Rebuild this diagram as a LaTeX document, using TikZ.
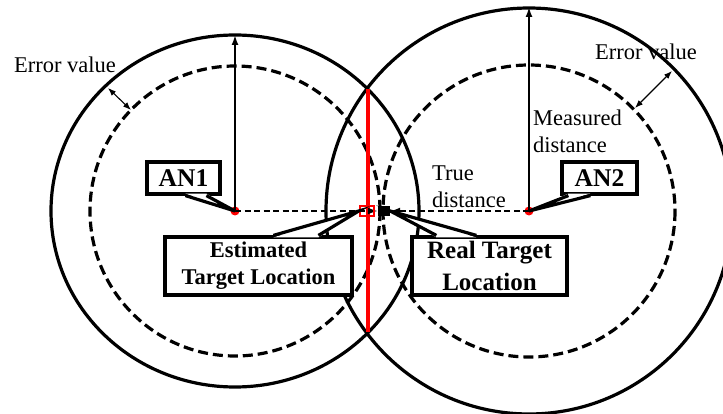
\documentclass[tikz,border=0pt]{standalone}
\usepackage{fontspec}
\setmainfont{Liberation Serif}
\usetikzlibrary{arrows.meta,calc}
\begin{document}
\begin{tikzpicture}[x=1pt,y=-1pt,
  ring/.style={line width=3.2pt},
  dashring/.style={line width=3.2pt,dash pattern=on 10pt off 5pt},
  radiusarrow/.style={line width=1.8pt,-{Latex[length=10pt,width=7pt]}},
  dasharrow/.style={line width=1.8pt,dash pattern=on 6pt off 3.5pt,-{Latex[length=10pt,width=7pt]}},
  errarrow/.style={line width=1.1pt,{Latex[length=8pt,width=6pt]}-{Latex[length=8pt,width=6pt]}},
  anchordot/.style={circle,fill=red,minimum size=9pt,inner sep=0pt},
  calloutbox/.style={draw,fill=white,line width=3.2pt,inner sep=0pt,align=center,font=\bfseries},
  wedgeline/.style={line width=3.2pt,line join=miter},
  plaintext/.style={align=left,inner sep=0pt,font=\fontsize{22.5}{27}\selectfont}]
\clip (0,0) rectangle (723,414);
\fill[white] (0,0) rectangle (723,414);

% circles
\draw[ring] (235,211) ellipse [x radius=184, y radius=176];
\draw[ring] (529,211) circle [radius=203];
\draw[dashring] (235,211) circle [radius=145];
\draw[dashring] (529,211) circle [radius=146];

% red line
\coordinate (rtop) at (368,89);
\coordinate (rbot) at (368,332);
\draw[red,line width=3.4pt] (rtop) -- (rbot);

% anchors and targets
\node[anchordot] (an1dot) at (235,211) {};
\node[anchordot] (an2dot) at (529,211) {};
\node[fill=black,minimum width=12pt,minimum height=10pt,inner sep=0pt] (real) at (384,211) {};

% measured distance arrows
\coordinate (top1) at (235,35);
\coordinate (top2) at (529,7);
\draw[radiusarrow] (an1dot.center) -- (top1);
\draw[radiusarrow] (an2dot.center) -- (top2);

% true distance arrows
\draw[dasharrow] (an1dot.center) -- (real.west);
\draw[dasharrow] (an2dot.center) -- (real.east);

\node[draw=red,line width=2.6pt,minimum width=14pt,minimum height=10pt,inner sep=0pt] (est) at (367,211) {};

% error arrows
\coordinate (e1a) at (108,88);
\coordinate (e1b) at (131,110);
\coordinate (e2a) at (672,71);
\coordinate (e2b) at (635,108);
\draw[errarrow] (e1a) -- (e1b);
\draw[errarrow] (e2a) -- (e2b);

% texts
\node[plaintext] (err1) at (65,65) {Error value};
\node[plaintext] (err2) at (646,52) {Error value};
\node[plaintext,anchor=west] (meas) at (533,131) {Measured\\distance};
\node[plaintext,anchor=west] (true) at (432,187) {True\\distance};

% callouts
\node[calloutbox,minimum width=73pt,minimum height=32pt,font=\bfseries\fontsize{25.5}{30}\selectfont] (an1) at (183.5,178) {AN1};
\fill[white] ($(an1.south west)+(40,-2)$) -- (an1dot.center) -- ($(an1.south west)+(61,-2)$) -- cycle;
\draw[wedgeline] ($(an1.south west)+(40,0)$) -- (an1dot.center) -- ($(an1.south west)+(61,0)$);

\node[calloutbox,minimum width=75pt,minimum height=32pt,font=\bfseries\fontsize{25.5}{30}\selectfont] (an2) at (599.5,178) {AN2};
\fill[white] ($(an2.south west)+(8,-2)$) -- (an2dot.center) -- ($(an2.south west)+(30,-2)$) -- cycle;
\draw[wedgeline] ($(an2.south west)+(8,0)$) -- (an2dot.center) -- ($(an2.south west)+(30,0)$);

\node[calloutbox,minimum width=187pt,minimum height=58pt,font=\bfseries\fontsize{22.5}{27}\selectfont] (estbox) at (258.5,266) {Estimated\\Target Location};
\fill[white] ($(estbox.north west)+(110,2)$) -- (est.west) -- ($(estbox.north west)+(155,2)$) -- cycle;
\draw[wedgeline] ($(estbox.north west)+(110,0)$) -- (est.west) -- ($(estbox.north west)+(155,0)$);

\node[calloutbox,minimum width=155pt,minimum height=58pt,font=\bfseries\fontsize{25}{32}\selectfont] (realbox) at (489.5,266) {Real Target\\Location};
\fill[white] ($(realbox.north west)+(26,2)$) -- (real.east) -- ($(realbox.north west)+(66,2)$) -- cycle;
\draw[wedgeline] ($(realbox.north west)+(26,0)$) -- (real.east) -- ($(realbox.north west)+(66,0)$);
\end{tikzpicture}
\end{document}
